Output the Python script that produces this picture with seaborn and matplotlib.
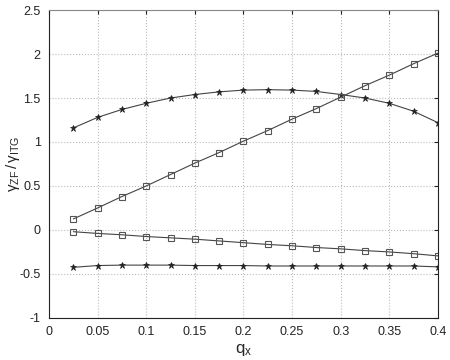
import numpy as np
import pandas as pd
import matplotlib
matplotlib.use('Agg')
import matplotlib.pyplot as plt
import seaborn as sns

qx = [0.025, 0.05, 0.075, 0.1, 0.125, 0.15, 0.175, 0.2,
      0.225, 0.25, 0.275, 0.3, 0.325, 0.35, 0.375, 0.4]

upper_star = [1.16, 1.28, 1.37, 1.44, 1.50, 1.54, 1.57, 1.59,
              1.595, 1.59, 1.575, 1.54, 1.50, 1.44, 1.35, 1.22]
upper_square = [0.125, 0.25, 0.38, 0.50, 0.63, 0.76, 0.88, 1.01,
                1.13, 1.26, 1.38, 1.51, 1.64, 1.76, 1.89, 2.01]
lower_square = [-0.02, -0.04, -0.055, -0.075, -0.09, -0.105, -0.125, -0.145,
                -0.165, -0.18, -0.20, -0.215, -0.235, -0.25, -0.27, -0.295]
lower_star = [-0.425, -0.405, -0.40, -0.40, -0.40, -0.405, -0.405, -0.405,
              -0.41, -0.41, -0.41, -0.41, -0.41, -0.41, -0.41, -0.42]

series = {
    'star_up': (upper_star, '*'),
    'sq_up': (upper_square, 's'),
    'sq_low': (lower_square, 's'),
    'star_low': (lower_star, '*'),
}

sns.set_style('white')
plt.rcParams['font.family'] = ['Liberation Sans', 'DejaVu Sans']
plt.rcParams['mathtext.fontset'] = 'custom'
plt.rcParams['mathtext.rm'] = 'Liberation Sans'
plt.rcParams['mathtext.it'] = 'Liberation Sans'

fig = plt.figure(figsize=(4.5, 3.6), dpi=100)
ax = fig.add_axes([0.109, 0.117, 0.864, 0.855])

for name, (vals, mk) in series.items():
    df = pd.DataFrame({'qx': qx, 'val': vals})
    if mk == 's':
        sns.lineplot(data=df, x='qx', y='val', ax=ax, color='#444444', lw=0.8,
                     marker='s', markersize=4.5, markerfacecolor='none',
                     markeredgecolor='#555555', markeredgewidth=0.8)
    else:
        sns.lineplot(data=df, x='qx', y='val', ax=ax, color='#444444', lw=0.8,
                     marker='*', markersize=4.5, markerfacecolor='#222222',
                     markeredgecolor='#222222', markeredgewidth=0.5)

ax.set_xlim(0, 0.4)
ax.set_ylim(-1, 2.5)
ax.set_xticks(np.arange(0, 0.401, 0.05))
ax.set_xticklabels(['0', '0.05', '0.1', '0.15', '0.2', '0.25', '0.3', '0.35', '0.4'])
ax.set_yticks(np.arange(-1, 2.51, 0.5))
ax.set_yticklabels(['-1', '-0.5', '0', '0.5', '1', '1.5', '2', '2.5'])
ax.grid(True, linestyle=':', color='#bbbbbb', lw=0.8)
ax.tick_params(direction='in', length=3, labelsize=9, colors='#222222',
               top=True, right=True, pad=6)
for s in ax.spines.values():
    s.set_color('#222222')
    s.set_linewidth(0.8)
ax.spines['top'].set_color('#888888')

ax.set_xlabel(r'q$_\mathregular{x}$', fontsize=12, labelpad=3)
ax.set_ylabel(r'$\gamma_{\mathregular{ZF}}\,/\,\gamma_{\mathregular{ITG}}$', fontsize=11)
ax.yaxis.set_label_coords(-0.07, 0.5)

fig.savefig('out.png', dpi=100)
